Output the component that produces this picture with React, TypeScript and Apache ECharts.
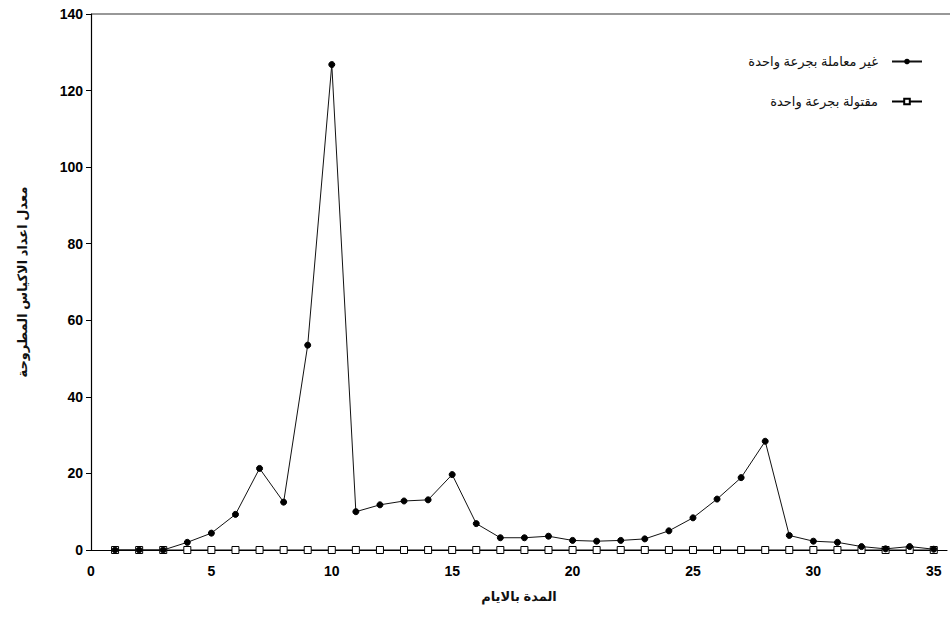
import React, { useEffect, useRef } from "react";
import * as echarts from "echarts";

const days = Array.from({ length: 35 }, (_, i) => i + 1);
const untreated = [
  0, 0, 0, 2.0, 4.4, 9.3, 21.3, 12.5, 53.5, 126.8,
  10.0, 11.8, 12.8, 13.1, 19.7, 6.9, 3.2, 3.2, 3.6, 2.5,
  2.3, 2.5, 2.9, 5.0, 8.4, 13.3, 18.9, 28.4, 3.8, 2.3,
  2.0, 0.9, 0.3, 0.9, 0.2,
];
const killed = [
  0, 0, 0, 0, 0, 0, 0, 0, 0, 0,
  0, 0, 0, 0, 0, 0, 0, 0, 0, 0,
  0, 0, 0, 0, 0, 0, 0, 0, 0, 0,
  0, 0, 0, 0, 0,
];
const seriesNames = ["غير معاملة بجرعة واحدة", "مقتولة بجرعة واحدة"];
const xTitle = "المدة بالايام";
const yTitle = "معدل اعداد الاكياس المطروحة";

const FONT = "'Liberation Sans', Arial, 'DejaVu Sans', sans-serif";

export default function App() {
  const ref = useRef<HTMLDivElement>(null);
  useEffect(() => {
    if (!ref.current) return;
    const chart = echarts.init(ref.current, null, { renderer: "svg" });
    chart.setOption({
      animation: false,
      backgroundColor: "#fff",
      grid: { left: 91, top: 14, right: 3, bottom: 68 },
      legend: {
        orient: "vertical",
        right: 22,
        top: 50,
        align: "right",
        itemWidth: 30,
        itemHeight: 7,
        itemGap: 27,
        textStyle: { fontFamily: FONT, fontSize: 13, color: "#111", padding: [0, 9, 0, 0] },
        data: seriesNames,
      },
      xAxis: {
        type: "value",
        min: 0,
        max: 35.55,
        interval: 5,
        name: xTitle,
        nameLocation: "middle",
        nameGap: 40,
        nameTextStyle: { fontFamily: FONT, fontSize: 13, fontWeight: "bold", color: "#111" },
        axisLine: { lineStyle: { color: "#000", width: 1.2 } },
        axisTick: { show: false },
        splitLine: { show: false },
        axisLabel: {
          fontFamily: FONT,
          fontSize: 14,
          fontWeight: "bold",
          color: "#000",
          margin: 14,
          formatter: (v: number) => (v % 5 === 0 ? String(v) : ""),
        },
      },
      yAxis: {
        type: "value",
        min: 0,
        max: 140,
        interval: 20,
        name: yTitle,
        nameLocation: "middle",
        nameGap: 62,
        nameTextStyle: { fontFamily: FONT, fontSize: 13, fontWeight: "bold", color: "#111" },
        axisLine: { show: true, lineStyle: { color: "#000", width: 1.2 } },
        axisTick: { show: true, length: 5, lineStyle: { color: "#000" } },
        splitLine: { show: false },
        axisLabel: {
          fontFamily: FONT,
          fontSize: 14,
          fontWeight: "bold",
          color: "#000",
          margin: 8,
        },
      },
      graphic: [
        {
          type: "line",
          shape: { x1: 91, y1: 14, x2: 950, y2: 14 },
          style: { stroke: "#333", lineWidth: 1.2 },
        },
      ],
      series: [
        {
          name: seriesNames[1],
          type: "line",
          data: days.map((d, i) => [d, killed[i]]),
          symbol: "rect",
          symbolSize: 7,
          lineStyle: { color: "#000", width: 1 },
          itemStyle: { color: "#fff", borderColor: "#000", borderWidth: 1 },
          z: 2,
        },
        {
          name: seriesNames[0],
          type: "line",
          data: days.map((d, i) => [d, untreated[i]]),
          symbol: "circle",
          symbolSize: 6,
          lineStyle: { color: "#111", width: 1 },
          itemStyle: { color: "#000", borderColor: "#000" },
          z: 3,
        },
      ],
    });
    return () => chart.dispose();
  }, []);
  return <div ref={ref} style={{ width: 950, height: 618, position: "absolute", left: 0, top: 0 }} />;
}
